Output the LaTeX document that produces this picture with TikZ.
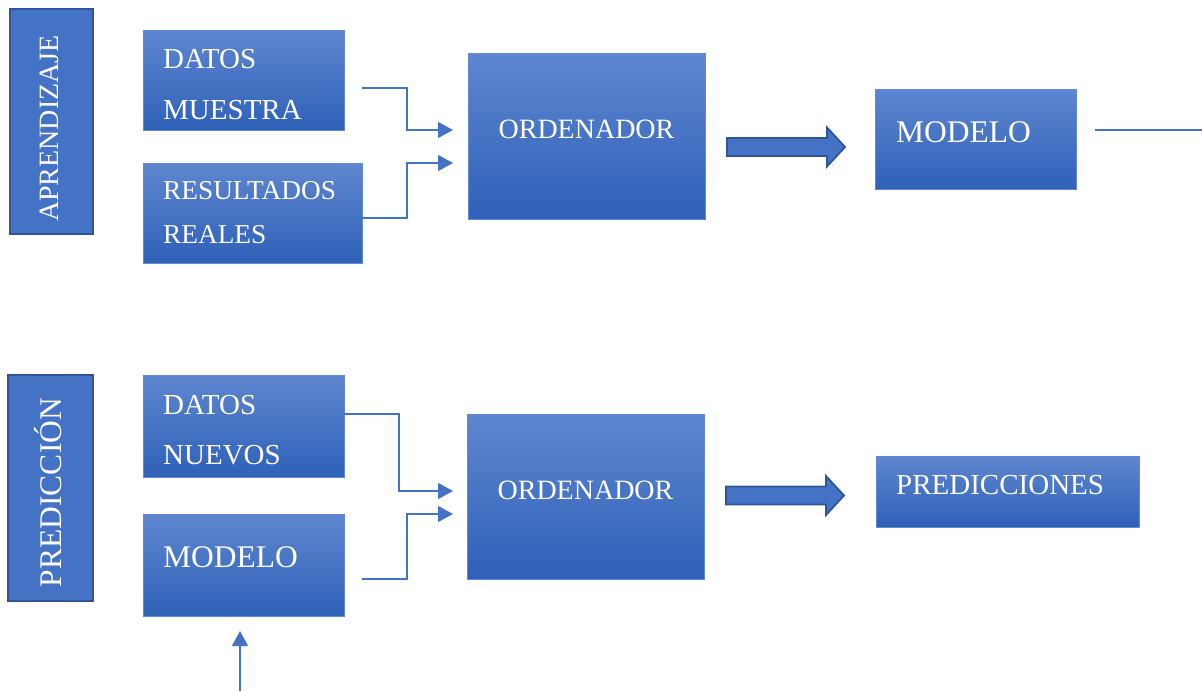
\documentclass[tikz,border=0pt]{standalone}
\usepackage{fontspec}
\setmainfont{Liberation Serif}
\usetikzlibrary{arrows.meta,calc}

\definecolor{boxtop}{RGB}{94,134,208}
\definecolor{boxbot}{RGB}{47,97,184}
\definecolor{boxedge}{RGB}{98,138,212}
\definecolor{accent}{RGB}{68,114,196}
\definecolor{darkedge}{RGB}{47,85,151}

\tikzset{
  gbox/.style={draw=boxedge, line width=0.8pt, top color=boxtop, bottom color=boxbot,
    inner sep=0pt, outer sep=0pt},
  sidebox/.style={draw=darkedge, line width=2.8pt, fill=accent, inner sep=0pt, outer sep=0pt},
  lbl/.style={text=white, inner sep=0pt, anchor=base west},
  clbl/.style={text=white, inner sep=0pt, anchor=base},
  conn/.style={draw=accent, line width=1.2pt, -{Triangle[length=15pt,width=16pt]}},
  plainconn/.style={draw=accent, line width=1.2pt},
  barrow/.style={fill=accent, draw=darkedge, line width=1.8pt, line join=miter},
  fA/.style={font=\fontsize{27.3}{33}\selectfont},
  fB/.style={font=\fontsize{28}{34}\selectfont},
  fC/.style={font=\fontsize{29}{35}\selectfont},
  fD/.style={font=\fontsize{31.5}{38}\selectfont},
}

\begin{document}
\begin{tikzpicture}[x=1pt,y=-1pt]
  \useasboundingbox (0,0) rectangle (1202,691);
  \fill[white] (0,0) rectangle (1202,691);

  % ---- learning stage ----
  \node[sidebox, minimum width=83pt, minimum height=225pt] (apr) at (51.5,121.5) {};
  \node[clbl, fB, rotate=90] (aprt) at (58,128.5) {APRENDIZAJE};

  \node[gbox, minimum width=201pt, minimum height=100pt] (dm) at (243.5,80) {};
  \node[lbl, fC] (dm1) at (163,68) {DATOS};
  \node[lbl, fC] (dm2) at (163,119) {MUESTRA};

  \node[gbox, minimum width=219pt, minimum height=100pt] (rr) at (252.5,213) {};
  \node[lbl, fA] (rr1) at (163,199) {RESULTADOS};
  \node[lbl, fA] (rr2) at (163,243) {REALES};

  \node[gbox, minimum width=237pt, minimum height=166pt] (ord1) at (586.5,136) {};
  \node[clbl, fB] (ord1t) at (586.5,138) {ORDENADOR};

  \node[gbox, minimum width=201pt, minimum height=100pt] (mod1) at (975.5,139) {};
  \node[lbl, fD] (mod1t) at (896,142) {MODELO};

  \draw[conn] ($(dm.north east)+(18,58)$) -- ++(45,0) |- ($(ord1.west)+(-15,-6)$);
  \draw[conn] ($(rr.east)+(0,5)$) -- ++(45,0) |- ($(ord1.west)+(-15,27)$);

  \coordinate (ba1) at ($(ord1.east)+(22,11)$);
  \draw[barrow] (ba1) ++(0,-9) -- ++(100,0) -- ++(0,-10.5) -- ++(18,19.5)
    -- ++(-18,19.5) -- ++(0,-10.5) -- ++(-100,0) -- cycle;

  \coordinate (out1) at (1202,130);
  \draw[plainconn] ($(mod1.east)+(19,-9)$) -- (out1);

  % ---- prediction stage ----
  \node[sidebox, minimum width=85pt, minimum height=226pt] (pre) at (50.5,488) {};
  \node[clbl, fD, rotate=90] (pret) at (61,492.5) {PREDICCIÓN};

  \node[gbox, minimum width=201pt, minimum height=102pt] (dn) at (243.5,426) {};
  \node[lbl, fC] (dn1) at (163,414) {DATOS};
  \node[lbl, fC] (dn2) at (163,464) {NUEVOS};

  \node[gbox, minimum width=201pt, minimum height=102pt] (mod2) at (243.5,565) {};
  \node[lbl, fD] (mod2t) at (163,567) {MODELO};

  \node[gbox, minimum width=237pt, minimum height=165pt] (ord2) at (585.5,496.5) {};
  \node[clbl, fB] (ord2t) at (585.5,499) {ORDENADOR};

  \node[gbox, minimum width=263pt, minimum height=71pt] (preds) at (1007.5,491.5) {};
  \node[lbl, fC] (predst) at (896,494) {PREDICCIONES};

  \draw[conn] ($(dn.east)+(0,-12)$) -- ++(55,0) |- ($(ord2.west)+(-14,-5.5)$);
  \draw[conn] ($(mod2.east)+(18,14)$) -- ++(45,0) |- ($(ord2.west)+(-14,17.5)$);

  \coordinate (ba2) at ($(ord2.east)+(22,-1)$);
  \draw[barrow] (ba2) ++(0,-9) -- ++(100,0) -- ++(0,-10.5) -- ++(18,19.5)
    -- ++(-18,19.5) -- ++(0,-10.5) -- ++(-100,0) -- cycle;

  \coordinate (in2) at (240,691);
  \draw[conn] (in2) -- ($(mod2.south)+(-3.5,15)$);
\end{tikzpicture}
\end{document}
